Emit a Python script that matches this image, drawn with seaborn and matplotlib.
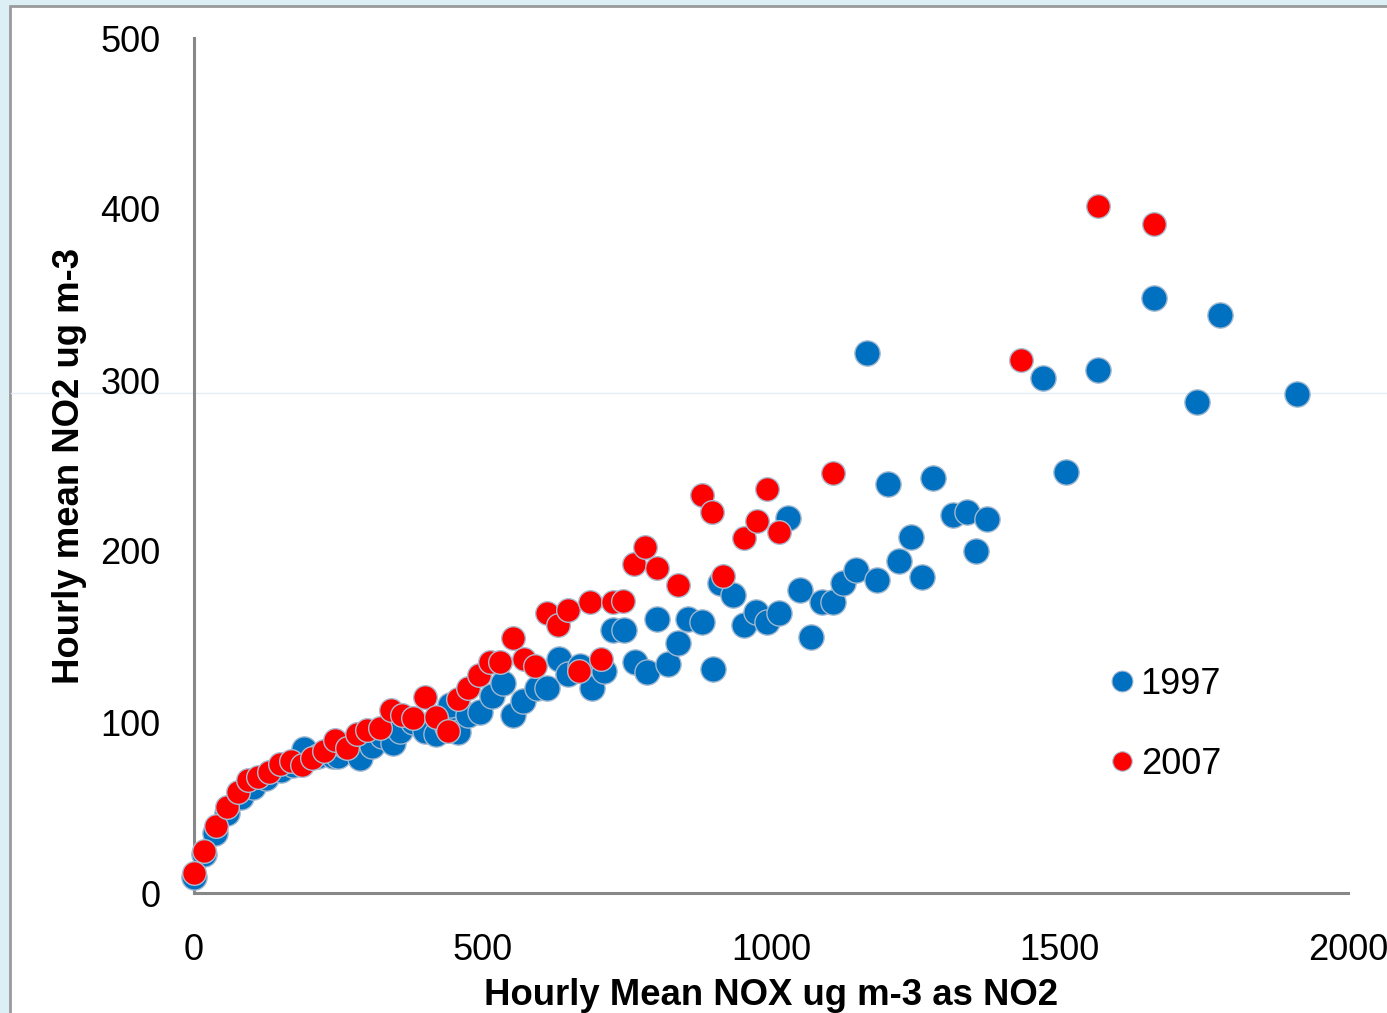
import pandas as pd
import matplotlib
matplotlib.use("Agg")
import matplotlib.pyplot as plt
import seaborn as sns
from matplotlib.lines import Line2D
from matplotlib.patches import Rectangle

# === Data ===
nox_1997 = [0, 18, 36, 58, 82, 102, 125, 150, 172, 190, 215, 241, 250, 262, 288,
            308, 325, 345, 357, 380, 400, 420, 438, 444, 458, 475, 496, 516, 536,
            553, 571, 594, 611, 632, 649, 669, 689, 711, 727, 745, 764, 785, 802,
            822, 839, 857, 880, 899, 912, 935, 954, 974, 993, 1013, 1030, 1051,
            1070, 1088, 1107, 1125, 1147, 1166, 1184, 1203, 1222, 1242, 1262, 1280,
            1316, 1339, 1356, 1375, 1472, 1511, 1566, 1663, 1739, 1779, 1911]
no2_1997 = [9.5, 23, 35, 47, 56, 62, 67, 72, 75, 84, 80, 80, 80, 86, 79,
            86, 92, 88, 95, 100, 95, 93, 97, 110, 94, 104, 106, 115, 123,
            104, 112, 120, 120, 137, 128, 133, 120, 130, 154, 154, 135, 129, 160,
            134, 146, 160, 158.6, 131, 181, 174, 157, 164.5, 158.6, 164, 219.5, 177,
            149.5, 170, 170, 181.4, 189, 316, 183, 239, 194, 208, 185, 242.5,
            221, 223, 200, 219, 301, 246, 306, 348, 287, 338, 292]

nox_2007 = [0, 17, 38, 58, 77, 94, 111, 130, 149, 168, 188, 205, 225, 244, 266,
            283, 300, 323, 342, 360, 380, 400, 420, 441, 458, 475, 494, 513, 531,
            553, 572, 591, 611, 630, 649, 667, 686, 706, 727, 744, 763, 782, 803,
            839, 880, 898, 917, 954, 975, 993, 1013, 1108, 1434, 1566, 1663]
no2_2007 = [11.5, 24.6, 39.4, 50.5, 59.2, 66, 68, 71, 75.4, 77.4, 74.9, 78.7, 83, 89.5, 84.6,
            92.7, 95.3, 96.3, 107, 104, 102.5, 114.5, 103, 95, 113.5, 120, 127.5, 135, 135,
            149, 137, 132.7, 164, 156.7, 165.5, 130, 170, 137, 170, 171, 192.4, 202.5, 190,
            180, 233, 223, 185.5, 207.8, 217.5, 236, 211, 245.4, 311.7, 401.8, 391]

years = ["1997", "2007"]
colors = {"1997": "#0070C0", "2007": "#FF0000"}

df = pd.concat([
    pd.DataFrame({"nox": nox_1997, "no2": no2_1997, "year": "1997"}),
    pd.DataFrame({"nox": nox_2007, "no2": no2_2007, "year": "2007"}),
])

# === Figure ===
sns.set_style("white")
plt.rcParams["font.family"] = ["Liberation Sans", "DejaVu Sans"]
plt.rcParams["text.color"] = "black"
plt.rcParams["axes.labelcolor"] = "black"

fig = plt.figure(figsize=(13.87, 10.13), dpi=100, facecolor="#DCEFF5")
fig.patches.append(Rectangle((10 / 1387, -0.01), 1.0, 1 - 6 / 1013 + 0.01,
                             transform=fig.transFigure, facecolor="white",
                             edgecolor="#9a9a9a", linewidth=2, zorder=-2))
fig.lines.append(Line2D([0.008, 1.0], [1 - 393 / 1013] * 2, transform=fig.transFigure,
                        color="#e4eef6", linewidth=1, zorder=-1))

ax = fig.add_axes([194 / 1387, 1 - 893 / 1013, (1348 - 194) / 1387, (893 - 38) / 1013])
ax.set_facecolor("none")

sns.scatterplot(data=df[df.year == "1997"], x="nox", y="no2", color=colors["1997"],
                s=330, edgecolor="#9fb7cf", linewidth=1.0, ax=ax, legend=False,
                clip_on=False, zorder=3)
sns.scatterplot(data=df[df.year == "2007"], x="nox", y="no2", color=colors["2007"],
                s=290, edgecolor="#a9bdd2", linewidth=1.0, ax=ax, legend=False,
                clip_on=False, zorder=4)

ax.set_xlim(0, 2000)
ax.set_ylim(0, 500)
ax.set_xticks([0, 500, 1000, 1500, 2000])
ax.set_yticks([0, 100, 200, 300, 400, 500])

for side in ["top", "right"]:
    ax.spines[side].set_visible(False)
for side in ["left", "bottom"]:
    ax.spines[side].set_color("#878787")
    ax.spines[side].set_linewidth(2.2)

ax.tick_params(axis="both", direction="out", length=9, width=2.2, color="#878787",
               labelsize=26, labelcolor="black")
ax.tick_params(axis="y", pad=15)
ax.tick_params(axis="x", pad=20)

ax.set_xlabel("Hourly Mean NOX ug m-3 as NO2", fontsize=26.3, fontweight="bold", labelpad=7)
ax.set_ylabel("Hourly mean NO2 ug m-3", fontsize=26.3, fontweight="bold", labelpad=10)

# === Legend ===
handles = [
    Line2D([], [], linestyle="none", marker="o", markersize=15,
           markerfacecolor=colors["1997"], markeredgecolor="#9fb7cf", markeredgewidth=0.8),
    Line2D([], [], linestyle="none", marker="o", markersize=14,
           markerfacecolor=colors["2007"], markeredgecolor="#a9bdd2", markeredgewidth=0.8),
]
ax.legend(handles, years, frameon=False, fontsize=26, loc="center left",
          bbox_to_anchor=(0.779, 0.197), labelspacing=1.25, handlelength=0.6,
          handletextpad=0.22, borderpad=0, labelcolor="black")

fig.savefig("out.png", dpi=100, facecolor=fig.get_facecolor())
